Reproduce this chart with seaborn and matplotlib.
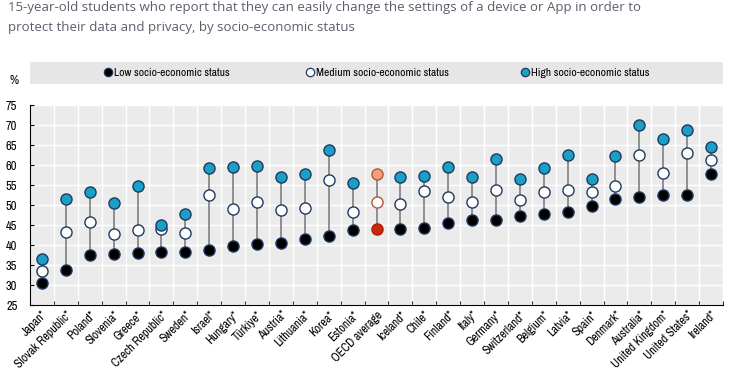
import numpy as np
import pandas as pd
import matplotlib
matplotlib.use("Agg")
import matplotlib.pyplot as plt
import seaborn as sns
from matplotlib.lines import Line2D
from matplotlib.patches import Rectangle

# data (%)
countries = ['Japan*', 'Slovak Republic*', 'Poland*', 'Slovenia*', 'Greece*', 'Czech Republic*',
             'Sweden*', 'Israel*', 'Hungary*', 'Türkiye*', 'Austria*', 'Lithuania*', 'Korea*',
             'Estonia*', 'OECD average', 'Iceland*', 'Chile*', 'Finland*', 'Italy*', 'Germany*',
             'Switzerland*', 'Belgium*', 'Latvia*', 'Spain*', 'Denmark*', 'Australia*',
             'United Kingdom*', 'United States*', 'Ireland*']
low = [30.6, 33.8, 37.4, 37.7, 37.9, 38.3, 38.3, 38.7, 39.8, 40.2, 40.4, 41.5, 42.2,
       43.7, 43.9, 44.0, 44.2, 45.5, 46.2, 46.2, 47.3, 47.7, 48.3, 49.8, 51.6, 52.1,
       52.6, 52.6, 57.7]
medium = [33.5, 43.3, 45.7, 42.8, 43.8, 43.9, 42.9, 52.6, 49.0, 50.8, 48.7, 49.3, 56.3,
          48.2, 50.8, 50.2, 53.6, 51.9, 50.8, 53.7, 51.2, 53.2, 53.7, 53.3, 54.8, 62.4,
          58.1, 62.9, 61.2]
high = [36.5, 51.5, 53.2, 50.4, 54.7, 45.0, 47.8, 59.2, 59.4, 59.7, 57.1, 57.7, 63.7,
        55.5, 57.7, 56.9, 57.3, 59.5, 57.1, 61.4, 56.6, 59.2, 62.5, 56.4, 62.3, 69.9,
        66.5, 68.8, 64.6]
highlight = 'OECD average'
legend_labels = ['Low socio-economic status', 'Medium socio-economic status',
                 'High socio-economic status']

df = pd.DataFrame({'country': countries, 'low': low, 'medium': medium, 'high': high})
df['x'] = np.arange(len(df))
is_hl = df['country'] == highlight

narrow = ['Archivo Narrow', 'Liberation Sans Narrow', 'DejaVu Sans']
navy = '#1f3a5f'
teal = '#1a9fc7'

fig = plt.figure(figsize=(7.36, 3.79), dpi=100)
ax = fig.add_axes([30 / 736, 1 - 305 / 379, 693 / 736, 200 / 379])
ax.set_facecolor('#ebebeb')

# connecting lines low -> high
ax.vlines(df['x'], df['low'], df['high'], color='#7f7f7f', lw=1.2, zorder=2)

styles = [('low', '#000000', navy, '#d0250c', '#a0200c'),
          ('medium', '#ffffff', navy, '#ffffff', '#b5553a'),
          ('high', teal, navy, '#f2a07b', '#b5553a')]
for col, fc, ec, hl_fc, hl_ec in styles:
    sns.scatterplot(data=df[~is_hl], x='x', y=col, color=fc, edgecolor=ec, linewidth=1.0,
                    s=64, ax=ax, zorder=3, legend=False)
    sns.scatterplot(data=df[is_hl], x='x', y=col, color=hl_fc, edgecolor=hl_ec, linewidth=1.0,
                    s=64, ax=ax, zorder=3, legend=False)

ax.set_xlim(-0.5, len(df) - 0.5)
ax.set_ylim(25, 75)
ax.set_yticks(np.arange(25, 76, 5))
ax.set_xticks(df['x'])
ax.set_xticklabels(df['country'], rotation=45, ha='right', rotation_mode='anchor',
                   family=narrow, fontsize=8.6)
ax.set_xticks(np.arange(-0.5, len(df), 1), minor=True)
ax.set_xlabel('')
ax.set_ylabel('')
for lab in ax.get_yticklabels():
    lab.set_family(narrow)
    lab.set_fontsize(9)

ax.grid(axis='y', color='white', lw=1.0, zorder=0)
ax.grid(axis='x', which='minor', color='white', lw=1.0, zorder=0)
ax.set_axisbelow(True)
for s in ['top', 'right']:
    ax.spines[s].set_visible(False)
for s in ['left', 'bottom']:
    ax.spines[s].set_color('black')
    ax.spines[s].set_linewidth(0.8)
ax.tick_params(axis='x', which='major', length=0, pad=3)
ax.tick_params(axis='x', which='minor', length=3, direction='in', color='black')
ax.tick_params(axis='y', length=3, direction='in', pad=9, color='black')

# title
fig.text(8 / 736, 1 - 1 / 379,
         '15-year-old students who report that they can easily change the settings of a device or App in order to\n'
         'protect their data and privacy, by socio-economic status',
         family='Open Sans', fontsize=9.5, color='#5b5f6b', va='top', ha='left', linespacing=1.75)

# legend band
fig.patches.append(Rectangle((30 / 736, 1 - 84 / 379), 693 / 736, 22 / 379,
                             transform=fig.transFigure, facecolor='#e6e6e6', edgecolor='none'))
fig.text(9 / 736, 1 - 81 / 379, '%', family=narrow, fontsize=9, va='center', ha='left')
face = ['#000000', '#ffffff', teal]
marker_x = [109, 311, 526]
for fc, lab, mx in zip(face, legend_labels, marker_x):
    h = Line2D([], [], ls='', marker='o', ms=6, mfc=fc, mec=navy, mew=0.9)
    fig.legend([h], [lab], loc='center left', bbox_to_anchor=((mx - 4) / 736, 1 - 72.5 / 379),
               frameon=False, handlelength=0.6, handletextpad=0.2, borderpad=0,
               borderaxespad=0, prop={'family': narrow, 'size': 8.3})

fig.savefig('out.png', dpi=100)
